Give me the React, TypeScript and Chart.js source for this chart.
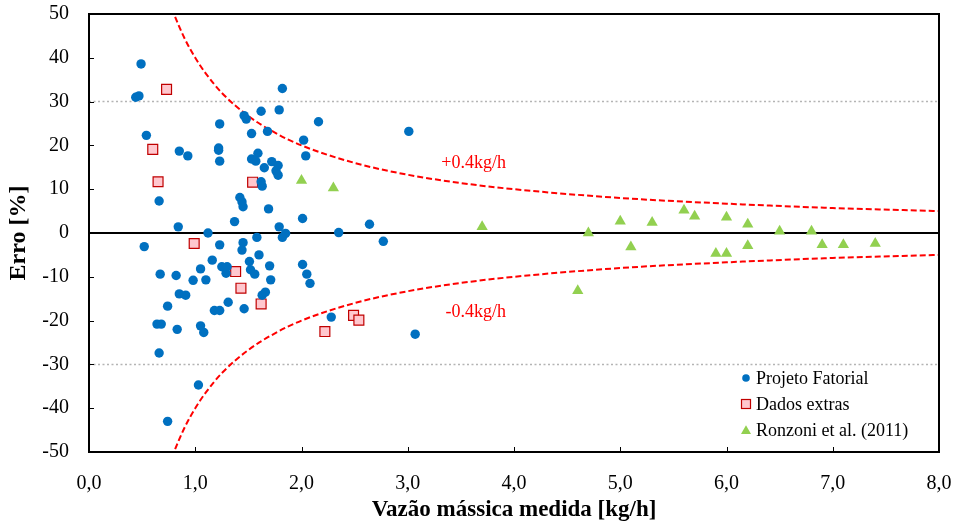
import React, { useEffect, useRef } from 'react';
import { Chart, registerables } from 'chart.js';

Chart.register(...registerables);

const FONT = "'Liberation Serif', 'Times New Roman', serif";

// Projeto Fatorial [vazão kg/h, erro %]
const projetoFatorial: [number, number][] = [
  [0.49, 38.6], [0.44, 31.0], [0.47, 31.3], [0.54, 22.3], [0.85, 18.7], [0.93, 17.6],
  [1.23, 24.9], [1.22, 19.4], [1.22, 18.9], [1.23, 16.4], [0.66, 7.3], [0.84, 1.4],
  [1.12, 0.0], [1.37, 2.6], [1.42, 8.1], [1.44, 7.1], [1.45, 6.0], [1.69, 5.5],
  [1.46, 26.8], [1.48, 26.0], [1.62, 27.8], [1.79, 28.1], [1.82, 33.0], [2.16, 25.4],
  [1.53, 22.7], [1.68, 23.2], [2.02, 21.2], [2.04, 17.6], [1.59, 18.2], [1.53, 16.9],
  [1.57, 16.4], [1.65, 14.9], [1.72, 16.3], [1.78, 15.4], [1.76, 14.2], [1.78, 13.2],
  [1.62, 11.7], [1.63, 10.7], [2.01, 3.3], [1.79, 1.4], [1.82, -1.0], [1.85, -0.1],
  [0.52, -3.1], [1.23, -2.7], [1.45, -2.2], [1.44, -3.9], [1.58, -1.0], [1.60, -5.0],
  [1.16, -6.2], [1.51, -6.5], [1.70, -7.5], [1.25, -7.7], [1.30, -7.7], [1.29, -9.2],
  [1.52, -8.4], [1.56, -9.4], [1.05, -8.2], [1.71, -10.7], [0.67, -9.4], [0.82, -9.7],
  [0.98, -10.8], [1.10, -10.7], [0.85, -13.9], [0.91, -14.2], [1.63, -14.2], [1.66, -13.5],
  [0.74, -16.7], [1.31, -15.8], [1.18, -17.7], [1.23, -17.7], [1.46, -17.3], [0.64, -20.8],
  [0.68, -20.8], [0.83, -22.0], [1.05, -21.2], [1.08, -22.7], [0.66, -27.4], [1.03, -34.7],
  [0.74, -43.0], [2.01, -7.2], [2.05, -9.4], [2.08, -11.5], [2.28, -19.2], [3.01, 23.2],
  [2.35, 0.1], [2.64, 2.0], [2.77, -1.9], [3.07, -23.1],
];

// Dados extras
const dadosExtras: [number, number][] = [
  [0.73, 32.8], [0.60, 19.1], [0.65, 11.7], [1.54, 11.6], [0.99, -2.4], [1.38, -8.8],
  [1.43, -12.6], [1.62, -16.2], [2.22, -22.5], [2.49, -18.8], [2.54, -19.9],
];

// Ronzoni et al. (2011)
const ronzoni: [number, number][] = [
  [2.0, 12.0], [2.3, 10.3], [3.7, 1.4], [4.7, 0.0], [5.0, 2.7], [5.1, -3.2], [5.3, 2.4],
  [5.6, 5.2], [5.7, 3.8], [5.9, -4.7], [6.0, -4.7], [6.0, 3.6], [6.2, 2.0], [6.2, -2.9],
  [6.5, 0.4], [6.8, 0.4], [6.9, -2.7], [7.1, -2.7], [7.4, -2.4], [4.6, -13.2],
];

// Limites ±0.4 kg/h (curvas tracejadas)
const limiteX = [0.78, 0.8, 0.9, 1.0, 1.1, 1.25, 1.5, 1.75, 2.0, 2.5, 3.0, 3.5, 4.0, 5.0, 6.0, 7.0, 8.0];
const limiteSup = [51.3, 50, 44.4, 40, 36.4, 32, 26.7, 22.9, 20, 16, 13.3, 11.4, 10, 8, 6.7, 5.7, 5];
const limiteInf = [-51.3, -50, -44.4, -40, -36.4, -32, -26.7, -22.9, -20, -16, -13.3, -11.4, -10, -8, -6.7, -5.7, -5];

const xTicks = [0, 1, 2, 3, 4, 5, 6, 7, 8];
const yTicks = [-50, -40, -30, -20, -10, 0, 10, 20, 30, 40, 50];
const gridLinesY = [30, -30];
const legendLabels = ['Projeto Fatorial', 'Dados extras', 'Ronzoni et al. (2011)'];
const curveLabels = ['+0.4kg/h', '-0.4kg/h'];
const xTitle = 'Vazão mássica medida [kg/h]';
const yTitle = 'Erro [%]';

const BLUE = '#0070C0';
const PINK = '#FFC7CE';
const DARKRED = '#C00000';
const GREEN = '#92D050';
const RED = '#FF0000';

const toPts = (arr: [number, number][]) => arr.map(([x, y]) => ({ x, y }));

function drawTriangle(ctx: CanvasRenderingContext2D, x: number, y: number, r: number) {
  ctx.beginPath();
  ctx.moveTo(x, y - r);
  ctx.lineTo(x + 0.866 * r, y + 0.5 * r);
  ctx.lineTo(x - 0.866 * r, y + 0.5 * r);
  ctx.closePath();
  ctx.fill();
}

const zeroPad = (s: any) => {
  s.paddingTop = 0;
  s.paddingBottom = 0;
  s.paddingLeft = 0;
  s.paddingRight = 0;
};

const decorPlugin = {
  id: 'decor',
  beforeDatasetsDraw(chart: any) {
    const { ctx, chartArea: a, scales } = chart;
    const ys = scales.y;
    ctx.save();
    ctx.strokeStyle = '#b4b4b4';
    ctx.lineWidth = 1.5;
    ctx.setLineDash([2, 2.5]);
    for (const v of gridLinesY) {
      const py = ys.getPixelForValue(v);
      ctx.beginPath();
      ctx.moveTo(a.left, py);
      ctx.lineTo(a.right, py);
      ctx.stroke();
    }
    ctx.setLineDash([]);
    ctx.strokeStyle = '#000';
    ctx.lineWidth = 2;
    const y0 = ys.getPixelForValue(0);
    ctx.beginPath();
    ctx.moveTo(a.left, y0);
    ctx.lineTo(a.right, y0);
    ctx.stroke();
    ctx.restore();
  },
  afterDatasetsDraw(chart: any) {
    const { ctx, chartArea: a, scales } = chart;
    const xs = scales.x;
    const ys = scales.y;
    ctx.save();
    // frame
    ctx.strokeStyle = '#000';
    ctx.lineWidth = 2;
    ctx.strokeRect(a.left, a.top, a.right - a.left, a.bottom - a.top);
    // inward ticks
    ctx.lineWidth = 1;
    for (const v of yTicks) {
      const py = Math.round(ys.getPixelForValue(v)) + 0.5;
      ctx.beginPath();
      ctx.moveTo(a.left, py);
      ctx.lineTo(a.left + 5, py);
      ctx.stroke();
    }
    for (const v of xTicks) {
      const px = Math.round(xs.getPixelForValue(v)) + 0.5;
      ctx.beginPath();
      ctx.moveTo(px, a.bottom);
      ctx.lineTo(px, a.bottom - 5);
      ctx.stroke();
    }
    // curve labels
    ctx.fillStyle = RED;
    ctx.font = `18px ${FONT}`;
    ctx.textAlign = 'center';
    ctx.textBaseline = 'middle';
    ctx.fillText(curveLabels[0], xs.getPixelForValue(3.62), ys.getPixelForValue(16.0));
    ctx.fillText(curveLabels[1], xs.getPixelForValue(3.64), ys.getPixelForValue(-18.0));
    // legend
    const lx = a.right - 193;
    const rows = [a.bottom - 74, a.bottom - 48, a.bottom - 22];
    ctx.font = `18px ${FONT}`;
    ctx.textAlign = 'left';
    legendLabels.forEach((t, i) => {
      ctx.fillStyle = '#000';
      ctx.fillText(t, lx + 10, rows[i] + 1);
    });
    ctx.fillStyle = BLUE;
    ctx.beginPath();
    ctx.arc(lx, rows[0], 3.8, 0, Math.PI * 2);
    ctx.fill();
    ctx.fillStyle = PINK;
    ctx.fillRect(lx - 4.5, rows[1] - 4.5, 9, 9);
    ctx.strokeStyle = DARKRED;
    ctx.lineWidth = 1.2;
    ctx.strokeRect(lx - 4.5, rows[1] - 4.5, 9, 9);
    ctx.fillStyle = GREEN;
    drawTriangle(ctx, lx, rows[2] + 1, 5.8);
    // axis titles
    ctx.fillStyle = '#000';
    ctx.font = `bold 23px ${FONT}`;
    ctx.textAlign = 'center';
    ctx.textBaseline = 'middle';
    ctx.fillText(xTitle, (a.left + a.right) / 2, 510);
    ctx.save();
    ctx.font = `bold 24px ${FONT}`;
    ctx.translate(19, (a.top + a.bottom) / 2);
    ctx.rotate(-Math.PI / 2);
    ctx.fillText(yTitle, 0, 0);
    ctx.restore();
    ctx.restore();
  },
};

export default function App() {
  const canvasRef = useRef<HTMLCanvasElement | null>(null);

  useEffect(() => {
    if (!canvasRef.current) return;
    const chart = new Chart(canvasRef.current, {
      type: 'scatter',
      data: {
        datasets: [
          {
            label: 'limite+',
            data: limiteX.map((x, i) => ({ x, y: limiteSup[i] })),
            showLine: true,
            borderColor: RED,
            borderWidth: 2,
            borderDash: [6, 3],
            pointRadius: 0,
            cubicInterpolationMode: 'monotone',
            order: 5,
          },
          {
            label: 'limite-',
            data: limiteX.map((x, i) => ({ x, y: limiteInf[i] })),
            showLine: true,
            borderColor: RED,
            borderWidth: 2,
            borderDash: [6, 3],
            pointRadius: 0,
            cubicInterpolationMode: 'monotone',
            order: 5,
          },
          {
            label: legendLabels[2],
            data: toPts(ronzoni),
            pointStyle: 'triangle',
            pointRadius: 6.5,
            backgroundColor: GREEN,
            borderColor: GREEN,
            borderWidth: 0,
            order: 3,
          },
          {
            label: legendLabels[1],
            data: toPts(dadosExtras),
            pointStyle: 'rect',
            pointRadius: 7,
            backgroundColor: PINK,
            borderColor: DARKRED,
            borderWidth: 1.2,
            order: 2,
          },
          {
            label: legendLabels[0],
            data: toPts(projetoFatorial),
            pointStyle: 'circle',
            pointRadius: 4.7,
            backgroundColor: BLUE,
            borderColor: BLUE,
            borderWidth: 0,
            order: 1,
          },
        ],
      },
      options: {
        animation: false,
        responsive: true,
        maintainAspectRatio: false,
        layout: { padding: { top: 14, right: 18, left: 0, bottom: 0 } },
        plugins: {
          legend: { display: false },
          tooltip: { enabled: false },
        },
        scales: {
          x: {
            type: 'linear',
            min: 0,
            max: 8,
            afterFit: (s: any) => { s.height = 73; zeroPad(s); },
            afterBuildTicks: (s: any) => { s.ticks = xTicks.map((v) => ({ value: v })); },
            ticks: {
              color: '#000',
              font: { family: FONT, size: 20 },
              padding: 20,
              maxRotation: 0,
              callback: (v: any) => Number(v).toFixed(1).replace('.', ','),
            },
            grid: { display: false, drawTicks: false },
            border: { display: false },
          },
          y: {
            type: 'linear',
            min: -50,
            max: 50,
            afterFit: (s: any) => { s.width = 89; zeroPad(s); },
            afterBuildTicks: (s: any) => { s.ticks = yTicks.map((v) => ({ value: v })); },
            ticks: {
              color: '#000',
              font: { family: FONT, size: 20 },
              padding: 20,
              callback: (v: any) => String(v),
            },
            grid: { display: false, drawTicks: false },
            border: { display: false },
          },
        },
      },
      plugins: [decorPlugin],
    });
    return () => chart.destroy();
  }, []);

  return (
    <div style={{ position: 'fixed', left: 0, top: 0, width: 957, height: 525, background: '#fff' }}>
      <canvas ref={canvasRef} />
    </div>
  );
}
